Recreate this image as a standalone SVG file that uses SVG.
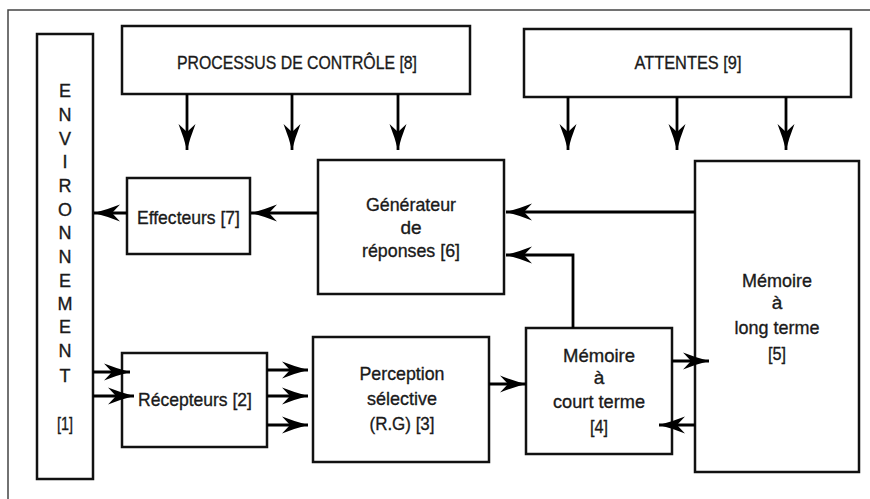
<svg xmlns="http://www.w3.org/2000/svg" width="870" height="499" viewBox="0 0 870 499">
<defs>
<marker id="ah" viewBox="-27 -9 28 18" refX="0" refY="0" markerWidth="28" markerHeight="18" markerUnits="userSpaceOnUse" orient="auto">
<path d="M0,0 Q-12,-3 -26,-8.5 L-18,0 L-26,8.5 Q-12,3 0,0 Z" fill="#000"/>
</marker>
<style>
.box{fill:#fff;stroke:#111;stroke-width:2.5}
.t{font-family:"Liberation Sans",Arial,sans-serif;font-size:19px;fill:#1a1a1a;stroke:#1a1a1a;stroke-width:0.35;text-anchor:middle}
.env{font-size:18px}
.c{fill:none;stroke:#000;stroke-width:2.8;marker-end:url(#ah)}
</style>
</defs>
<rect width="870" height="499" fill="#fff"/>
<path d="M8,499 V10 H870" fill="none" stroke="#444" stroke-width="1.5"/>

<g id="environnement">
<rect class="box" x="37" y="34" width="56" height="445"/>
<g class="t env">
<text x="65" y="97">E</text><text x="65" y="121">N</text><text x="65" y="145">V</text><text x="65" y="168">I</text><text x="65" y="192">R</text><text x="65" y="216">O</text><text x="65" y="239">N</text><text x="65" y="263">N</text><text x="65" y="287">E</text><text x="65" y="310">M</text><text x="65" y="333">E</text><text x="65" y="357">N</text><text x="65" y="382">T</text><text x="65" y="430" textLength="16" lengthAdjust="spacingAndGlyphs">[1]</text>
</g>
</g>

<g id="processus">
<rect class="box" x="122" y="26" width="348" height="68"/>
<text class="t" x="297" y="69" textLength="240" lengthAdjust="spacingAndGlyphs">PROCESSUS DE CONTRÔLE [8]</text>
</g>

<g id="attentes">
<rect class="box" x="524" y="29" width="327" height="68"/>
<text class="t" x="688" y="69" textLength="107" lengthAdjust="spacingAndGlyphs">ATTENTES [9]</text>
</g>

<g id="effecteurs">
<rect class="box" x="127" y="178" width="123" height="76"/>
<text class="t" x="188.5" y="224" textLength="103" lengthAdjust="spacingAndGlyphs">Effecteurs [7]</text>
</g>

<g id="generateur">
<rect class="box" x="318" y="160" width="186" height="134"/>
<text class="t" x="411" y="211" textLength="90" lengthAdjust="spacingAndGlyphs">Générateur</text>
<text class="t" x="411" y="234">de</text>
<text class="t" x="411" y="257" textLength="98" lengthAdjust="spacingAndGlyphs">réponses [6]</text>
</g>

<g id="memoire-long-terme">
<rect class="box" x="695" y="161" width="164" height="311"/>
<text class="t" x="777" y="287" textLength="70" lengthAdjust="spacingAndGlyphs">Mémoire</text>
<text class="t" x="777" y="309">à</text>
<text class="t" x="777" y="334" textLength="85" lengthAdjust="spacingAndGlyphs">long terme</text>
<text class="t" x="777" y="360" textLength="18" lengthAdjust="spacingAndGlyphs">[5]</text>
</g>

<g id="recepteurs">
<rect class="box" x="122" y="353" width="145" height="94"/>
<text class="t" x="195" y="406" textLength="114" lengthAdjust="spacingAndGlyphs">Récepteurs [2]</text>
</g>

<g id="perception">
<rect class="box" x="313" y="337" width="176" height="125"/>
<text class="t" x="402" y="380" textLength="85" lengthAdjust="spacingAndGlyphs">Perception</text>
<text class="t" x="402" y="405" textLength="70" lengthAdjust="spacingAndGlyphs">sélective</text>
<text class="t" x="402" y="430" textLength="65" lengthAdjust="spacingAndGlyphs">(R.G) [3]</text>
</g>

<g id="memoire-court-terme">
<rect class="box" x="526" y="328" width="146" height="126"/>
<text class="t" x="599" y="362" textLength="72" lengthAdjust="spacingAndGlyphs">Mémoire</text>
<text class="t" x="599" y="384">à</text>
<text class="t" x="599" y="408" textLength="92" lengthAdjust="spacingAndGlyphs">court terme</text>
<text class="t" x="599" y="433" textLength="18" lengthAdjust="spacingAndGlyphs">[4]</text>
</g>

<g id="connectors">
<path class="c" d="M187,94 V150"/>
<path class="c" d="M292,94 V150"/>
<path class="c" d="M398,94 V150"/>
<path class="c" d="M568,97 V150"/>
<path class="c" d="M677,97 V150"/>
<path class="c" d="M786,97 V150"/>
<path class="c" d="M127,213 H94"/>
<path class="c" d="M318,213 H251"/>
<path class="c" d="M695,212 H506"/>
<path class="c" d="M573,328 V255 H506"/>
<path class="c" d="M93,372 H130"/>
<path class="c" d="M93,396 H134"/>
<path class="c" d="M267,370 H308"/>
<path class="c" d="M267,396 H308"/>
<path class="c" d="M267,425 H308"/>
<path class="c" d="M489,384 H526"/>
<path class="c" d="M672,361 H709"/>
<path class="c" d="M695,425 H659"/>
</g>
</svg>
